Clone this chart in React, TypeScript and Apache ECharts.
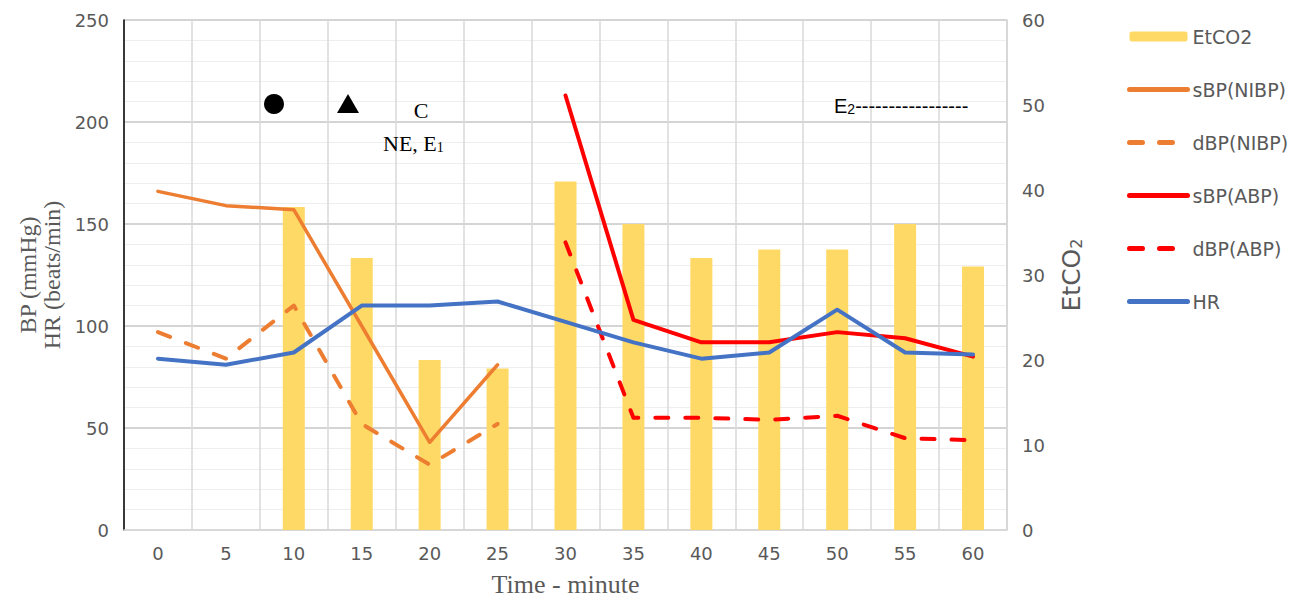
import React, { useEffect, useRef } from "react";
import * as echarts from "echarts";

const minutes = ["0", "5", "10", "15", "20", "25", "30", "35", "40", "45", "50", "55", "60"];
const etco2 = [null, null, 38, 32, 20, 19, 41, 36, 32, 33, 33, 36, 31];
const sbpNibp = [166, 159, 157, 100, 43, 81, null, null, null, null, null, null, null];
const dbpNibp = [97, 84, 110, 52, 32, 52, null, null, null, null, null, null, null];
const sbpAbp = [null, null, null, null, null, null, 213, 103, 92, 92, 97, 94, 85];
const dbpAbp = [null, null, null, null, null, null, 141, 55, 55, 54, 56, 45, 44];
const hr = [84, 81, 87, 110, 110, 112, 102, 92, 84, 87, 108, 87, 86];

const ORANGE = "#ED7D31";
const RED = "#FF0000";
const BLUE = "#4472C4";
const GOLD = "#FFD966";
const GREY_TXT = "#595959";
const SANS = "DejaVu Sans, Arial, sans-serif";
const ARIAL = "Liberation Sans, Arial, sans-serif";
const SERIF = "Liberation Serif, Times New Roman, serif";

export default function App() {
  const ref = useRef<HTMLDivElement>(null);
  useEffect(() => {
    if (!ref.current) return;
    const chart = echarts.init(ref.current, undefined, { renderer: "svg" });
    const dash = [13, 17];
    const lineBase = (name: string, data: any[], color: string, dashed: boolean, width: number) => ({
      name,
      type: "line",
      data,
      yAxisIndex: 0,
      symbol: "none",
      connectNulls: false,
      z: 3,
      itemStyle: { color },
      lineStyle: { color, width, type: dashed ? dash : "solid", cap: "round", join: "round" },
    });
    const lineLegend = (name: string) => ({
      name,
      itemStyle: { opacity: 0, color: "rgba(0,0,0,0)", borderWidth: 0 },
      lineStyle: { width: 5 },
    });
    chart.setOption({
      animation: false,
      backgroundColor: "#fff",
      grid: { left: 124, top: 20, width: 883, height: 510, containLabel: false },
      legend: {
        orient: "vertical",
        left: 1122,
        top: 22,
        itemWidth: 58,
        itemHeight: 10,
        itemGap: 34,
        textStyle: { color: GREY_TXT, fontSize: 19, fontFamily: SANS },
        data: [
          { name: "EtCO2" },
          lineLegend("sBP(NIBP)"),
          lineLegend("dBP(NIBP)"),
          lineLegend("sBP(ABP)"),
          lineLegend("dBP(ABP)"),
          lineLegend("HR"),
        ],
      },
      xAxis: {
        type: "category",
        data: minutes,
        boundaryGap: true,
        axisTick: { show: false },
        axisLine: { show: true, lineStyle: { color: "#d9d9d9", width: 1.5 } },
        axisLabel: { color: GREY_TXT, fontSize: 18, fontFamily: SANS, margin: 14 },
        splitLine: { show: true, lineStyle: { color: "#d9d9d9", width: 1.5 } },
        name: "Time - minute",
        nameLocation: "middle",
        nameGap: 41,
        nameTextStyle: { color: GREY_TXT, fontSize: 26, fontFamily: SERIF },
      },
      yAxis: [
        {
          type: "value",
          min: 0,
          max: 250,
          interval: 50,
          axisLine: { show: true, lineStyle: { color: "#000", width: 1.5 } },
          axisTick: { show: false },
          axisLabel: { color: GREY_TXT, fontSize: 18, fontFamily: SANS, margin: 15 },
          splitLine: { show: true, lineStyle: { color: "#d4d4d4", width: 2 } },
          minorTick: { show: false, splitNumber: 5 },
          minorSplitLine: { show: true, lineStyle: { color: "#eeeeee", width: 1 } },
          name: "BP (mmHg)\nHR (beats/min)",
          nameLocation: "middle",
          nameGap: 59,
          nameRotate: 90,
          nameTextStyle: { color: GREY_TXT, fontSize: 24, fontFamily: SERIF, lineHeight: 24, align: "center" },
        },
        {
          type: "value",
          min: 0,
          max: 60,
          interval: 10,
          position: "right",
          axisLine: { show: true, lineStyle: { color: "#d4d4d4", width: 1.5 } },
          axisTick: { show: false },
          axisLabel: { color: GREY_TXT, fontSize: 18, fontFamily: SANS, margin: 15 },
          splitLine: { show: false },
          name: "EtCO{s|2}",
          nameLocation: "middle",
          nameGap: 52,
          nameRotate: 90,
          nameTextStyle: {
            color: GREY_TXT,
            fontSize: 25,
            fontFamily: SANS,
            lineHeight: 25,
            rich: {
              s: { fontSize: 16, fontFamily: SANS, color: GREY_TXT, lineHeight: 10, verticalAlign: "bottom" },
            },
          },
        },
      ],
      series: [
        {
          name: "EtCO2",
          type: "bar",
          data: etco2,
          yAxisIndex: 1,
          barWidth: 22,
          z: 2,
          itemStyle: { color: GOLD },
        },
        lineBase("sBP(NIBP)", sbpNibp, ORANGE, false, 3.5),
        lineBase("dBP(NIBP)", dbpNibp, ORANGE, true, 4),
        lineBase("sBP(ABP)", sbpAbp, RED, false, 4),
        lineBase("dBP(ABP)", dbpAbp, RED, true, 4),
        lineBase("HR", hr, BLUE, false, 4),
      ],
      graphic: [
        { type: "circle", shape: { cx: 274, cy: 104, r: 10 }, style: { fill: "#000" }, z: 10 },
        {
          type: "polygon",
          shape: { points: [[348, 94], [337, 113], [359, 113]] },
          style: { fill: "#000" },
          z: 10,
        },
        {
          type: "text",
          x: 421,
          y: 110,
          z: 10,
          style: { text: "C", fill: "#000", font: `22px ${SERIF}`, textAlign: "center", textVerticalAlign: "middle" },
        },
        {
          type: "text",
          x: 383,
          y: 132,
          z: 10,
          style: {
            text: "{m|NE, E}{s|1}",
            fill: "#000",
            textAlign: "left",
            textVerticalAlign: "top",
            rich: {
              m: { fontSize: 22, fontFamily: SERIF, color: "#000", lineHeight: 22 },
              s: { fontSize: 14, fontFamily: SERIF, color: "#000", lineHeight: 8, verticalAlign: "bottom" },
            },
          },
        },
        {
          type: "text",
          x: 834,
          y: 96,
          z: 10,
          style: {
            text: "{m|E}{s|2}{m|-----------------}",
            fill: "#000",
            textAlign: "left",
            textVerticalAlign: "top",
            rich: {
              m: { fontSize: 20, fontFamily: ARIAL, color: "#000", lineHeight: 20 },
              s: { fontSize: 14, fontFamily: ARIAL, color: "#000", lineHeight: 8, verticalAlign: "bottom" },
            },
          },
        },
      ],
    });
    return () => chart.dispose();
  }, []);
  return <div ref={ref} style={{ position: "fixed", left: 0, top: 0, width: 1297, height: 602 }} />;
}
